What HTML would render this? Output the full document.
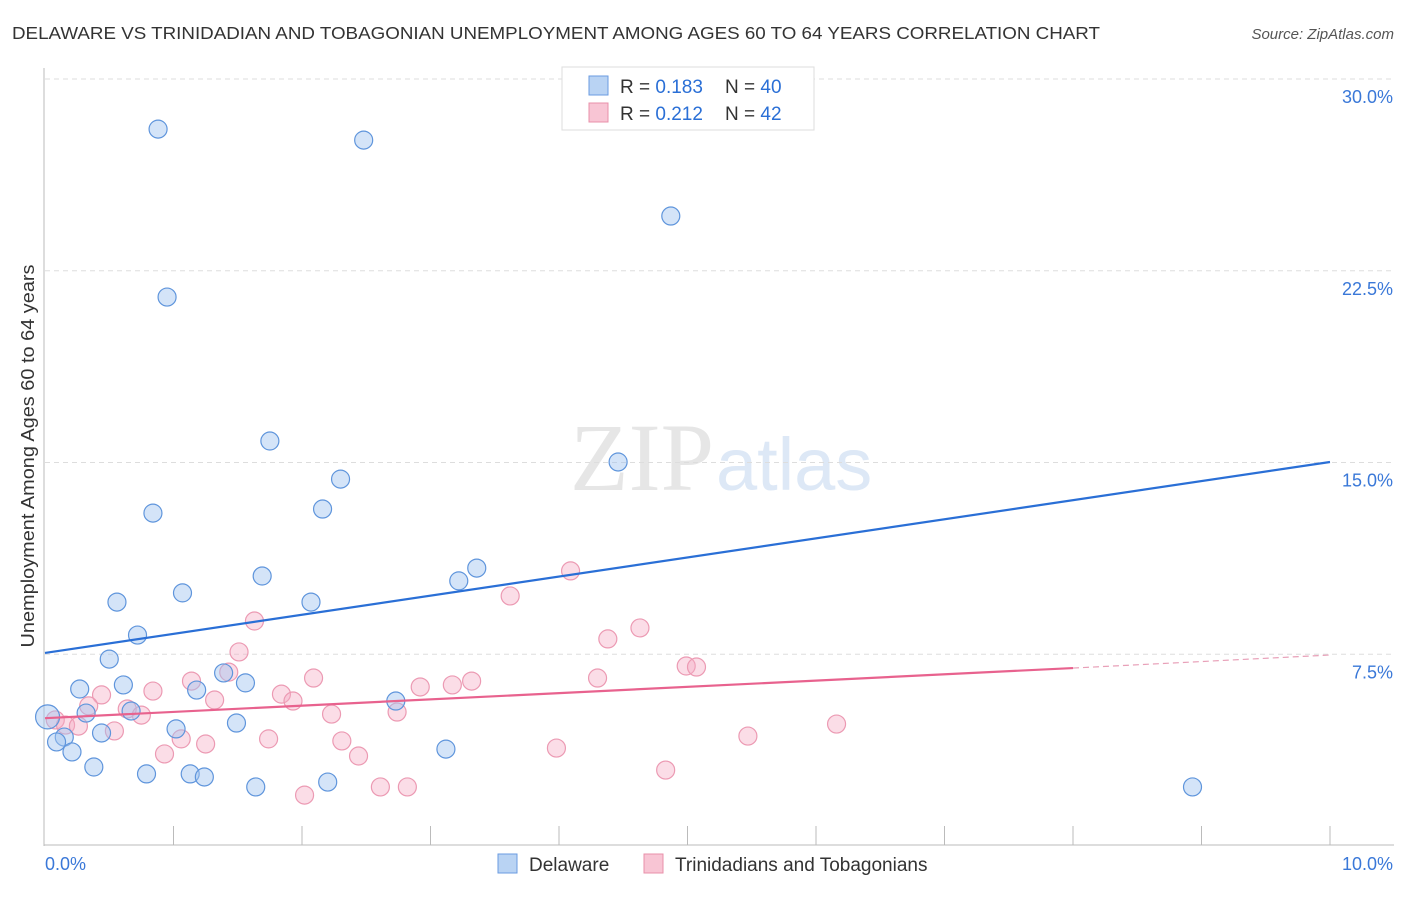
<!DOCTYPE html>
<html><head><meta charset="utf-8"><style>
body{margin:0;background:#fff;font-family:"Liberation Sans",sans-serif}
</style></head><body>
<svg width="1406" height="892" xmlns="http://www.w3.org/2000/svg" id="svg">
<text x="12" y="39" font-size="17.5" fill="#333" textLength="1088" lengthAdjust="spacingAndGlyphs">DELAWARE VS TRINIDADIAN AND TOBAGONIAN UNEMPLOYMENT AMONG AGES 60 TO 64 YEARS CORRELATION CHART</text>
<text x="1394" y="39" font-size="15" fill="#555" font-style="italic" text-anchor="end">Source: ZipAtlas.com</text>
<text x="714" y="490" font-size="96" fill="#e6e6e6" text-anchor="end" font-family="Liberation Serif">ZIP</text>
<text x="716" y="490" font-size="74" fill="#dde8f6">atlas</text>
<text transform="translate(34,456) rotate(-90)" font-size="18" fill="#333" text-anchor="middle" textLength="383" lengthAdjust="spacingAndGlyphs">Unemployment Among Ages 60 to 64 years</text>
<g id="grid"></g><g id="pts"></g><g id="trend"></g>
<g>
<rect x="562" y="67" width="252" height="63" fill="#fff" stroke="#ddd"/>
<rect x="589" y="76" width="19" height="19" fill="#b9d3f3" stroke="#6a9be0"/>
<rect x="589" y="103" width="19" height="19" fill="#f8c5d4" stroke="#e890aa"/>
<text x="620" y="93" font-size="19" fill="#333">R = <tspan fill="#2a6fd6">0.183</tspan></text>
<text x="725" y="93" font-size="19" fill="#333">N = <tspan fill="#2a6fd6">40</tspan></text>
<text x="620" y="120" font-size="19" fill="#333">R = <tspan fill="#2a6fd6">0.212</tspan></text>
<text x="725" y="120" font-size="19" fill="#333">N = <tspan fill="#2a6fd6"> 42</tspan></text>
</g>
<g>
<rect x="498" y="854" width="19" height="19" fill="#b9d3f3" stroke="#6a9be0"/>
<text x="529" y="871" font-size="19" fill="#333">Delaware</text>
<rect x="644" y="854" width="19" height="19" fill="#f8c5d4" stroke="#e890aa"/>
<text x="675" y="871" font-size="19" fill="#333">Trinidadians and Tobagonians</text>
</g>
</svg>
<script>
const yTicks=[7.5,15,22.5,30];
const yTickLabels=["7.5%","15.0%","22.5%","30.0%"];
const xTickLabels=["0.0%","10.0%"];
const blueX=[0.88,2.48,4.87,0.95,1.75,4.46,2.30,0.84,2.16,3.36,3.22,1.69,1.07,0.56,2.07,0.72,0.50,0.27,0.61,1.18,1.39,1.56,2.73,0.32,0.67,1.02,1.49,0.44,0.15,0.09,0.21,0.38,0.79,1.13,1.24,1.64,2.20,3.12,8.93,0.02];
const blueY=[28.04,27.61,24.64,21.47,15.84,15.02,14.35,13.02,13.18,10.87,10.37,10.56,9.90,9.54,9.54,8.25,7.31,6.14,6.30,6.10,6.77,6.38,5.67,5.20,5.28,4.58,4.81,4.42,4.26,4.07,3.68,3.09,2.82,2.82,2.70,2.31,2.50,3.79,2.31,5.05];
const pinkX=[4.09,3.62,1.63,4.63,4.38,1.51,4.99,5.07,1.43,1.14,2.09,4.30,3.32,0.84,0.44,1.84,3.17,2.92,1.93,1.32,0.34,0.64,0.75,2.23,2.74,0.54,1.06,1.25,1.74,2.31,0.93,2.44,3.98,5.47,6.16,4.83,2.02,2.61,2.82,0.08,0.16,0.26];
const pinkY=[10.76,9.78,8.80,8.53,8.10,7.59,7.04,7.00,6.80,6.45,6.57,6.57,6.45,6.06,5.91,5.94,6.30,6.22,5.67,5.71,5.48,5.36,5.12,5.16,5.24,4.50,4.19,3.99,4.19,4.11,3.60,3.52,3.83,4.30,4.77,2.97,1.99,2.31,2.31,4.93,4.73,4.69];
const blueTrend=[[0,7.55],[10,15.02]];
const pinkTrend=[[0,5.0],[8,6.96],[10,7.47]];
const NS="http://www.w3.org/2000/svg";
const sx=v=>45+v/10*1285, sy=v=>846-v/30*767;
function mk(t,a,p){const e=document.createElementNS(NS,t);for(const k in a)e.setAttribute(k,a[k]);document.getElementById(p).appendChild(e);return e;}
const ax=mk('line',{x1:44,y1:68,x2:44,y2:846,stroke:'#bbb'},'grid');


const bx=mk('line',{x1:44,y1:845,x2:1394,y2:845,stroke:'#bbb'},'grid');


yTicks.forEach((v,i)=>{
 const g=mk('line',{x1:45,y1:sy(v),x2:1394,y2:sy(v),stroke:'#ddd','stroke-dasharray':'5,4'},'grid');
 
 
 const t=mk('text',{x:1393,y:sy(v)+24,'font-size':18,fill:'#3a78d8','text-anchor':'end'},'grid');
 t.textContent=yTickLabels[i];
 
 
});
for(let i=1;i<=10;i++){
 const t=mk('line',{x1:sx(i),y1:826,x2:sx(i),y2:845,stroke:'#bbb'},'grid');
 
 
}
[[0,45,'start'],[1,1393,'end']].forEach(([i,x,a])=>{
 const t=mk('text',{x:x,y:870,'font-size':18,fill:'#3a78d8','text-anchor':a},'grid');
 t.textContent=xTickLabels[i];
 
 
});
pinkX.forEach((v,i)=>{
 const c=mk('circle',{cx:sx(v),cy:sy(pinkY[i]),r:9,fill:'rgba(245,170,195,0.4)',stroke:'#ec9ab3','stroke-width':1.2},'pts');
 
 
});
blueX.forEach((v,i)=>{
 const c=mk('circle',{cx:sx(v),cy:sy(blueY[i]),r:i==39?12:9,fill:'rgba(160,195,240,0.45)',stroke:'#5f95dc','stroke-width':1.2},'pts');
 
 
});
const bl=mk('line',{x1:sx(blueTrend[0][0]),y1:sy(blueTrend[0][1]),x2:sx(blueTrend[1][0]),y2:sy(blueTrend[1][1]),stroke:'#2a6fd6','stroke-width':2.2},'trend');


const pl=mk('line',{x1:sx(pinkTrend[0][0]),y1:sy(pinkTrend[0][1]),x2:sx(pinkTrend[1][0]),y2:sy(pinkTrend[1][1]),stroke:'#e8628e','stroke-width':2.2},'trend');


const pd=mk('line',{x1:sx(pinkTrend[1][0]),y1:sy(pinkTrend[1][1]),x2:sx(pinkTrend[2][0]),y2:sy(pinkTrend[2][1]),stroke:'#e8a0b8','stroke-width':1.2,'stroke-dasharray':'6,4'},'trend');


</script>
</body></html>
